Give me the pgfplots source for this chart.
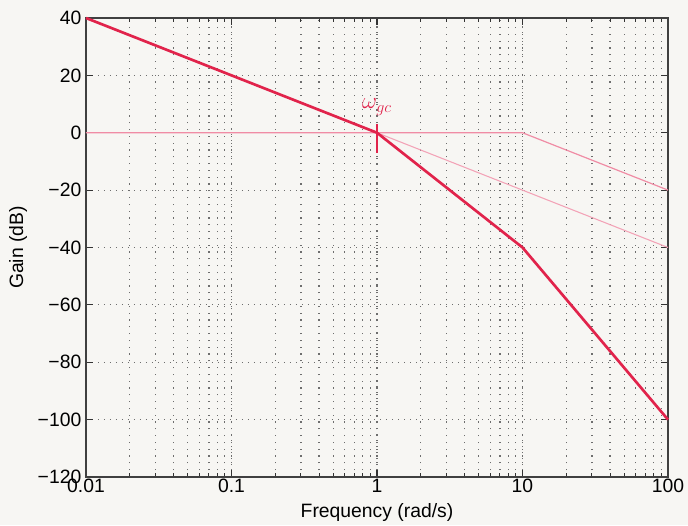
\documentclass[border=0pt]{standalone}
\usepackage{pgfplots}
\pgfplotsset{compat=1.18}
\usetikzlibrary{backgrounds}
\usepackage{fontspec}
\setmainfont{Liberation Sans}
\definecolor{paper}{RGB}{247,246,243}
\definecolor{ink}{RGB}{225,35,75}
\definecolor{pinkthin}{RGB}{240,140,165}
\definecolor{gridc}{RGB}{110,110,110}

\begin{document}
\begin{tikzpicture}
\begin{semilogxaxis}[
  name=ax, scale only axis,
  width=436.5pt, height=344.25pt,
  xmin=0.01, xmax=100, ymin=-120, ymax=40,
  xtick={0.01,0.1,1,10,100}, xticklabels={0.01,0.1,1,10,100},
  ytick={-120,-100,-80,-60,-40,-20,0,20,40},
  yticklabels={−120,−100,−80,−60,−40,−20,0,20,40},
  xlabel={Frequency (rad/s)}, ylabel={Gain (dB)},
  font=\fontsize{14.5}{17}\selectfont,
  tick label style={font=\fontsize{14.5}{17}\selectfont},
  xticklabel style={yshift=2pt},
  xlabel style={yshift=-1pt}, ylabel style={yshift=1pt},
  grid=both,
  major grid style={gridc, line width=0.9pt, dash pattern=on 0.9pt off 3.6pt},
  minor grid style={gridc, line width=0.9pt, dash pattern=on 0.9pt off 4.2pt},
  tick align=inside, major tick length=5pt, minor tick length=3pt,
  tick style={black!80, line width=0.8pt},
  axis line style={black!75, line width=1pt},
  clip=false,
]
% asymptotes of the two factors
\addplot[pinkthin, line width=0.9pt] coordinates {(0.01,0) (10,0) (100,-20)};
\addplot[pinkthin!80, line width=0.8pt] coordinates {(1,0) (100,-40)};
% total gain
\addplot[ink, line width=2pt] coordinates {(0.01,40) (1,0) (10,-40) (100,-100)};
% crossover mark
\addplot[ink, line width=1pt] coordinates {(1,3) (1,-7)};
\node[ink, font=\LARGE] at (axis cs:1.0,9) {$\omega_{gc}$};
\end{semilogxaxis}
\pgfresetboundingbox
\path ([shift={(-64.5pt,-36pt)}]ax.south west) coordinate (bl)
  rectangle ([shift={(15pt,13.5pt)}]ax.north east) coordinate (tr);
\begin{scope}[on background layer]
\fill[paper] (bl) rectangle (tr);
\end{scope}
\end{tikzpicture}
\end{document}
